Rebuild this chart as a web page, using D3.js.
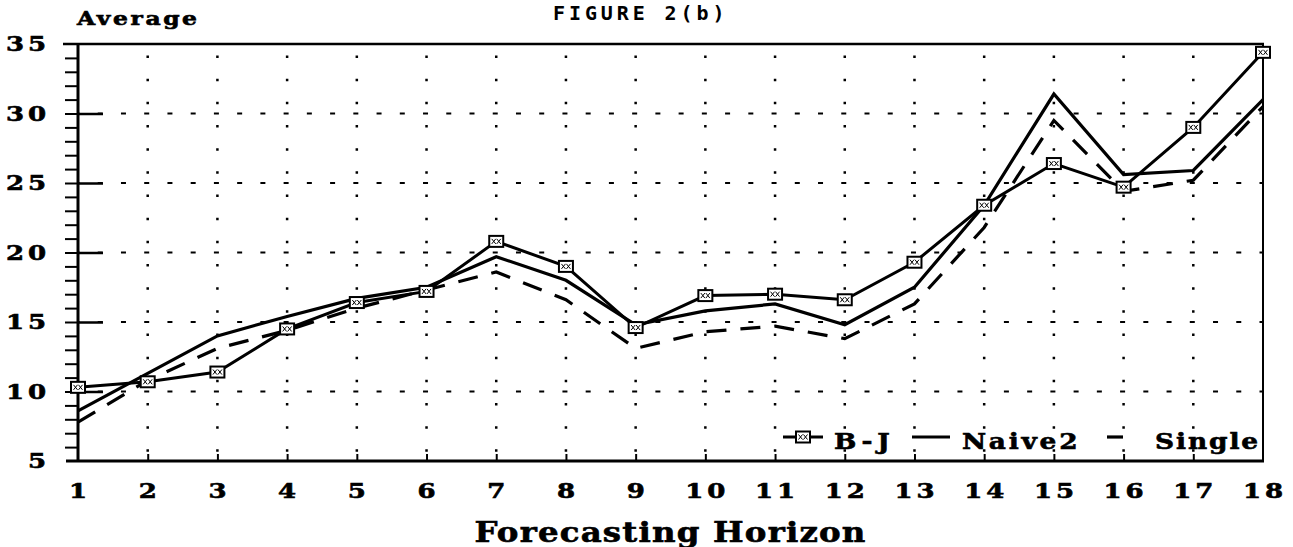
<!DOCTYPE html>
<html>
<head>
<meta charset="utf-8">
<script src="https://cdn.jsdelivr.net/npm/d3@7"></script>
<style>
  body { margin: 0; background: #fff; }
  svg { display: block; }
</style>
</head>
<body>
<div id="chart"></div>
<script>
// values
var horizons = [1, 2, 3, 4, 5, 6, 7, 8, 9, 10, 11, 12, 13, 14, 15, 16, 17, 18];
var bj     = [10.3, 10.7, 11.4, 14.5, 16.4, 17.2, 20.8, 19.0, 14.6, 16.9, 17.0, 16.6, 19.3, 23.4, 26.4, 24.7, 29.0, 34.4];
var naive2 = [8.6, 11.3, 14.0, 15.4, 16.7, 17.5, 19.7, 18.0, 14.8, 15.8, 16.3, 14.8, 17.5, 23.4, 31.4, 25.6, 25.9, 31.0];
var single = [7.8, 10.8, 13.1, 14.4, 16.0, 17.3, 18.6, 16.6, 13.1, 14.3, 14.7, 13.8, 16.3, 21.8, 29.5, 24.4, 25.2, 30.5];
var yTicks = [5, 10, 15, 20, 25, 30, 35];
var seriesNames = ["B-J", "Naive2", "Single"];

var W = 1293, H = 547;
var plotL = 78, plotR = 1263, plotT = 44, plotB = 461;
var serif = "'DejaVu Serif', serif";

var svg = d3.select("#chart").append("svg")
  .attr("width", W)
  .attr("height", H);

var x = d3.scaleLinear().domain([1, 18]).range([plotL, plotR]);
var y = d3.scaleLinear().domain([5, 35]).range([plotB, plotT]);

var stepX = x(2) - x(1);
var stepY = (y(10) - y(15)) / 3;

// wide, heavy serif text: DejaVu Serif stretched sideways
function wideText(g, tx, ty, str, size, sx, ls, anchor) {
  return g.append("text")
    .attr("transform", "translate(" + tx + "," + ty + ") scale(" + sx + ",1)")
    .attr("text-anchor", anchor)
    .style("font-family", serif)
    .style("font-weight", "bold")
    .style("font-size", size + "px")
    .style("letter-spacing", ls + "px")
    .style("stroke", "#000")
    .style("stroke-width", 0.6)
    .text(str);
}

// grid: short dashes across, dots down
var grid = svg.append("g");
grid.selectAll("line.h")
  .data(yTicks.slice(1, -1))
  .enter().append("line")
    .attr("class", "h")
    .attr("x1", plotL).attr("x2", plotR)
    .attr("y1", function(d) { return y(d); })
    .attr("y2", function(d) { return y(d); })
    .attr("stroke", "#000")
    .attr("stroke-width", 2)
    .attr("stroke-dasharray", "5," + (stepX / 3 - 5))
    .attr("stroke-dashoffset", 3.5);

grid.selectAll("line.v")
  .data(horizons.slice(1, -1))
  .enter().append("line")
    .attr("class", "v")
    .attr("x1", function(d) { return x(d); })
    .attr("x2", function(d) { return x(d); })
    .attr("y1", plotT).attr("y2", plotB)
    .attr("stroke", "#000")
    .attr("stroke-width", 2.5)
    .attr("stroke-dasharray", "2.5," + (stepY - 2.5))
    .attr("stroke-dashoffset", stepY - 11.5);

// frame
svg.append("line")
  .attr("x1", 63).attr("x2", plotR + 1)
  .attr("y1", plotT).attr("y2", plotT)
  .attr("stroke", "#000").attr("stroke-width", 2.5);
svg.append("line")
  .attr("x1", plotR).attr("x2", plotR)
  .attr("y1", plotT).attr("y2", plotB)
  .attr("stroke", "#000").attr("stroke-width", 2);
svg.append("line")
  .attr("x1", 66).attr("x2", plotR + 1)
  .attr("y1", plotB).attr("y2", plotB)
  .attr("stroke", "#000").attr("stroke-width", 3);
svg.append("line")
  .attr("x1", plotL).attr("x2", plotL)
  .attr("y1", plotT).attr("y2", plotB)
  .attr("stroke", "#000").attr("stroke-width", 3);

// y axis: minor ticks every unit to the left, majors poke inside
var minor = d3.range(6, 35);
var yMinor = svg.append("g")
  .attr("transform", "translate(" + plotL + ",0)")
  .call(d3.axisLeft(y).tickValues(minor).tickSize(13).tickFormat(""));
yMinor.select(".domain").remove();
yMinor.selectAll("line").attr("stroke-width", 2);

var yMajor = svg.append("g")
  .attr("transform", "translate(" + plotL + ",0)")
  .call(d3.axisRight(y).tickValues(yTicks.slice(1, -1)).tickSize(25).tickFormat(""));
yMajor.select(".domain").remove();
yMajor.selectAll("line").attr("stroke-width", 2.5);

// x axis ticks
var xAx = svg.append("g")
  .attr("transform", "translate(0," + plotB + ")")
  .call(d3.axisBottom(x).tickValues(horizons.slice(1, -1)).tickSize(-7).tickFormat(""));
xAx.select(".domain").remove();
xAx.selectAll("line").attr("stroke-width", 2);

// tick labels
var labels = svg.append("g");
yTicks.forEach(function(v) {
  wideText(labels, 50, y(v) + 7, String(v), 20, 1.3, 3, "end");
});
horizons.forEach(function(h) {
  wideText(labels, x(h) + 2, 498, String(h), 20, 1.3, 3, "middle");
});

// axis titles
wideText(svg, 77, 25, "Average", 18, 1.3, 2, "start");
wideText(svg, (plotL + plotR) / 2, 542, "Forecasting Horizon", 27, 1.2, 1, "middle");

svg.append("text")
  .attr("x", 553).attr("y", 20)
  .style("font-family", "'DejaVu Sans Mono', monospace")
  .style("font-weight", "bold")
  .style("font-size", "20px")
  .style("letter-spacing", "3.9px")
  .text("FIGURE 2(b)");

// series lines
var line = d3.line()
  .x(function(d, i) { return x(horizons[i]); })
  .y(function(d) { return y(d); });

var plot = svg.append("g");
plot.append("path").datum(single)
  .attr("d", line)
  .attr("fill", "none").attr("stroke", "#000")
  .attr("stroke-width", 3.2)
  .attr("stroke-dasharray", "20,14");
plot.append("path").datum(naive2)
  .attr("d", line)
  .attr("fill", "none").attr("stroke", "#000")
  .attr("stroke-width", 3.2);
plot.append("path").datum(bj)
  .attr("d", line)
  .attr("fill", "none").attr("stroke", "#000")
  .attr("stroke-width", 3);

// B-J box markers with a little cross pattern inside
function marker(g, cx, cy) {
  var m = g.append("g").attr("transform", "translate(" + cx + "," + cy + ")");
  m.append("rect")
    .attr("x", -7).attr("y", -5.5)
    .attr("width", 14).attr("height", 11)
    .attr("fill", "#fff")
    .attr("stroke", "#000").attr("stroke-width", 2);
  m.append("path")
    .attr("d", "M-4.5,-2.5L-0.5,2.5M-4.5,2.5L-0.5,-2.5M0.5,-2.5L4.5,2.5M0.5,2.5L4.5,-2.5")
    .attr("stroke", "#000").attr("stroke-width", 1);
}
var marks = plot.append("g");
bj.forEach(function(v, i) { marker(marks, x(horizons[i]), y(v)); });

// legend
var leg = svg.append("g");
var ly = 437;
leg.append("line").attr("x1", 783).attr("x2", 823).attr("y1", ly).attr("y2", ly)
  .attr("stroke", "#000").attr("stroke-width", 3);
marker(leg, 803, ly);
wideText(leg, 834, 449, seriesNames[0], 22, 1.2, 4, "start");

leg.append("line").attr("x1", 912).attr("x2", 950).attr("y1", ly).attr("y2", ly)
  .attr("stroke", "#000").attr("stroke-width", 3.2);
wideText(leg, 962, 449, seriesNames[1], 22, 1.2, 2.3, "start");

leg.append("line").attr("x1", 1107).attr("x2", 1123).attr("y1", ly).attr("y2", ly)
  .attr("stroke", "#000").attr("stroke-width", 3.2);
wideText(leg, 1155, 449, seriesNames[2], 22, 1.2, 1.6, "start");
</script>
</body>
</html>
